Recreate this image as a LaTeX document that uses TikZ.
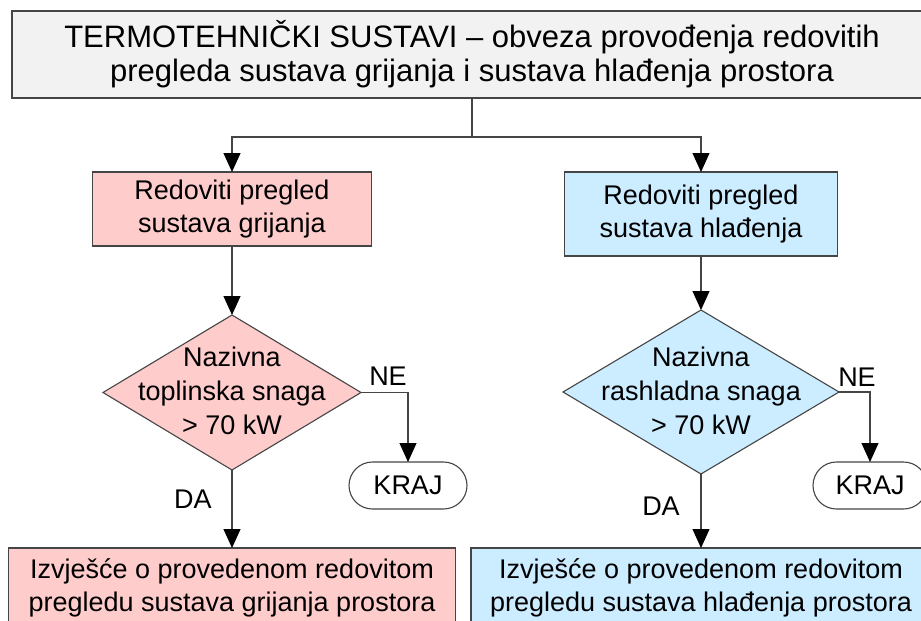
\documentclass[tikz,border=0pt]{standalone}
\usepackage{fontspec}
\setmainfont{Liberation Sans}
\usetikzlibrary{shapes.geometric,shapes.misc,arrows.meta}
\definecolor{pinkfill}{HTML}{FFCCCC}
\definecolor{bluefill}{HTML}{CCECFF}
\definecolor{titlefill}{HTML}{F2F2F2}
\definecolor{linecol}{HTML}{454545}
\begin{document}
\begin{tikzpicture}[x=1pt,y=-1pt,
  boxst/.style={draw=linecol, line width=1.1pt, rectangle, inner sep=0pt, outer sep=0pt, align=center, font=\fontsize{27}{33}\selectfont},
  diast/.style={draw=linecol, line width=1.1pt, diamond, inner sep=0pt, outer sep=0pt},
  txtst/.style={inner sep=0pt, align=center, font=\fontsize{27}{34}\selectfont},
  endst/.style={draw=linecol, line width=1.1pt, rounded rectangle, fill=white, inner sep=0pt, outer sep=0pt, font=\fontsize{27}{33}\selectfont},
  conn/.style={draw=linecol, line width=1.1pt},
  arr/.style={conn, -{Triangle[width=17pt,length=19pt,color=black]}}
]
\useasboundingbox (0,0) rectangle (921,621);
\clip (0,0) rectangle (921,621);

% title
\node[boxst, fill=titlefill, minimum width=920pt, minimum height=87pt,
      font=\fontsize{31}{34}\selectfont] (title) at (472,54.5)
  {TERMOTEHNIČKI SUSTAVI – obveza provođenja redovitih\\pregleda sustava grijanja i sustava hlađenja prostora};

\coordinate (split) at (472,137);

% left branch
\node[boxst, fill=pinkfill, minimum width=279pt, minimum height=74pt] (lbox) at (232,209)
  {Redoviti pregled\\sustava grijanja};
\node[diast, fill=pinkfill, minimum width=258pt, minimum height=155pt] (ldia) at (232,392.5) {};
\node[txtst] (ldiat) at (232,391) {Nazivna\\toplinska snaga\\> 70 kW};
\node[endst, minimum width=118pt, minimum height=47pt] (lkraj) at (408,485.5) {KRAJ};
\node[boxst, fill=pinkfill, minimum width=447pt, minimum height=80pt] (lrep) at (232,588)
  {Izvješće o provedenom redovitom\\pregledu sustava grijanja prostora};
\node[txtst] (lne) at (388,376) {NE};
\node[txtst] (lda) at (193,499) {DA};

% right branch
\node[boxst, fill=bluefill, minimum width=273pt, minimum height=84pt] (rbox) at (701,214)
  {Redoviti pregled\\sustava hlađenja};
\node[diast, fill=bluefill, minimum width=276pt, minimum height=164pt] (rdia) at (701,392) {};
\node[txtst] (rdiat) at (701,391) {Nazivna\\rashladna snaga\\> 70 kW};
\node[endst, minimum width=114pt, minimum height=47pt] (rkraj) at (870,485.5) {KRAJ};
\node[boxst, fill=bluefill, minimum width=460pt, minimum height=80pt] (rrep) at (701,588)
  {Izvješće o provedenom redovitom\\pregledu sustava hlađenja prostora};
\node[txtst] (rne) at (857,377) {NE};
\node[txtst] (rda) at (661,506) {DA};

% connectors
\draw[conn] (title.south) -- (split);
\draw[arr] (split) -| (lbox.north);
\draw[arr] (split) -| (rbox.north);
\draw[arr] (lbox.south) -- (ldia.north);
\draw[arr] (rbox.south) -- (rdia.north);
\draw[arr] (ldia.east) -| (lkraj.north);
\draw[arr] (rdia.east) -| (rkraj.north);
\draw[arr] (ldia.south) -- (lrep.north);
\draw[arr] (rdia.south) -- (rrep.north);
\end{tikzpicture}
\end{document}
